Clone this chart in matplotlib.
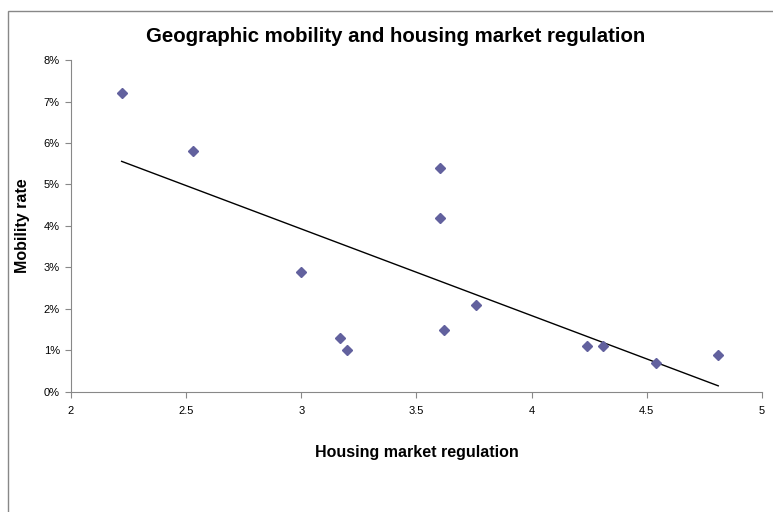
import matplotlib.pyplot as plt
import numpy as np
from matplotlib.patches import Rectangle

plt.rcParams['font.family'] = ['Liberation Sans', 'DejaVu Sans']

# housing market regulation index vs mobility rate (%)
regulation = [2.22, 2.53, 3.0, 3.17, 3.2, 3.6, 3.6, 3.62, 3.76, 4.24, 4.31, 4.54, 4.81]
mobility = [7.2, 5.8, 2.9, 1.3, 1.0, 5.4, 4.2, 1.5, 2.1, 1.1, 1.1, 0.7, 0.9]

x = np.array(regulation)
y = np.array(mobility)

fig = plt.figure(figsize=(7.73, 5.12), dpi=100)
ax = fig.add_axes([0.0918, 0.2344, 0.8940, 0.6484])

# linear trend over the data range (like Excel's trendline)
slope, intercept = np.polyfit(x, y, 1)
xt = np.array([x.min(), x.max()])
ax.plot(xt, slope * xt + intercept, color='black', lw=1)

ax.plot(x, y, 'D', color='#62619E', ms=5.5, mec='#62619E')

ax.set_xlim(2, 5)
ax.set_ylim(0, 8)
ax.set_xticks([2, 2.5, 3, 3.5, 4, 4.5, 5])
ax.set_xticklabels(['2', '2.5', '3', '3.5', '4', '4.5', '5'])
ax.set_yticks(range(0, 9))
ax.set_yticklabels([f'{i}%' for i in range(0, 9)])
ax.tick_params(labelsize=8, length=4, color='#888888', direction='out')
ax.tick_params(axis='x', pad=6)
ax.tick_params(axis='y', pad=4)
for s in ['top', 'right']:
    ax.spines[s].set_visible(False)
for s in ['left', 'bottom']:
    ax.spines[s].set_color('#888888')

ax.set_xlabel('Housing market regulation', fontsize=11.5, fontweight='bold', labelpad=21)
ax.set_ylabel('Mobility rate', fontsize=11.5, fontweight='bold', labelpad=10)
fig.text(0.512, 0.929, 'Geographic mobility and housing market regulation',
         ha='center', va='center', fontsize=14.7, fontweight='bold')

# chart border (runs off right and bottom edges)
fig.patches.append(Rectangle((8 / 773, -0.1), 1.2, 1.1 - 11 / 512,
                             transform=fig.transFigure, fill=False,
                             edgecolor='#888888', lw=1))

fig.savefig('out.png', dpi=100)
